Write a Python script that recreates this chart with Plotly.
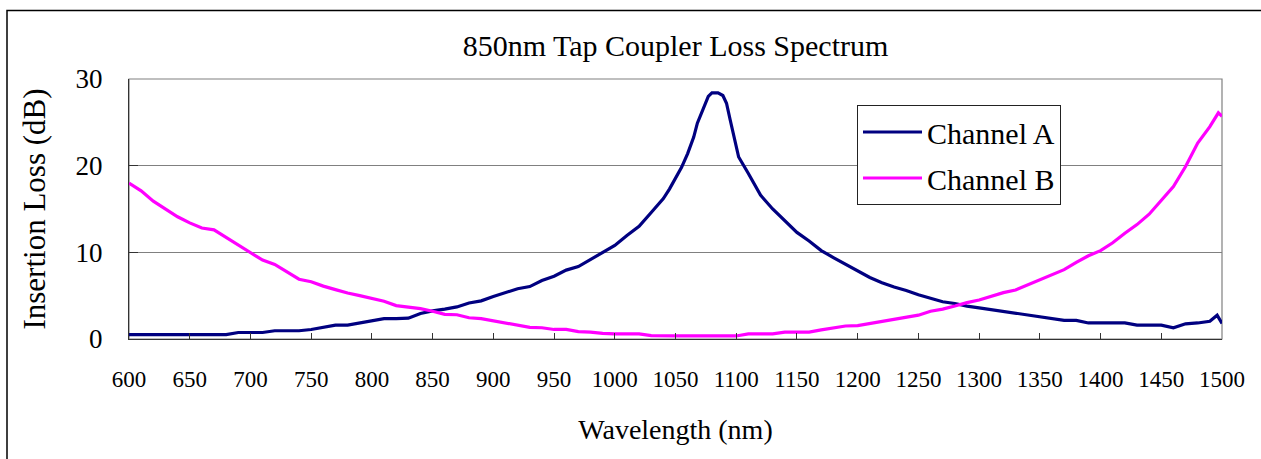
import plotly.graph_objects as go

# ---------------- data ----------------
wavelength_a = [600, 610, 620, 630, 640, 650, 660, 670, 680, 690, 700, 710, 720, 730, 740,
                750, 760, 770, 780, 790, 800, 810, 820, 830, 840, 850, 860, 870, 880, 890,
                900, 910, 920, 930, 940, 950, 960, 970, 980, 990, 1000, 1010, 1020, 1030,
                1040, 1045, 1050, 1055, 1060, 1065, 1068, 1072, 1077, 1080, 1085, 1089,
                1092, 1095, 1098, 1102, 1110, 1120, 1130, 1140, 1150, 1160, 1170, 1180,
                1190, 1200, 1210, 1220, 1230, 1240, 1250, 1260, 1270, 1280, 1290, 1300,
                1310, 1320, 1330, 1340, 1350, 1360, 1370, 1380, 1390, 1400, 1410, 1420,
                1430, 1440, 1450, 1460, 1470, 1480, 1490, 1496, 1500]
channel_a = [0.5, 0.5, 0.5, 0.5, 0.5, 0.5, 0.5, 0.5, 0.5, 0.75, 0.75, 0.75, 0.95, 0.95, 0.95,
             1.1, 1.35, 1.6, 1.6, 1.85, 2.05, 2.35, 2.35, 2.4, 2.95, 3.25, 3.45, 3.7, 4.15, 4.4,
             4.9, 5.35, 5.8, 6.05, 6.75, 7.25, 7.95, 8.35, 9.2, 10.05, 10.8, 11.95, 13.0, 14.6,
             16.2, 17.3, 18.5, 19.8, 21.4, 23.3, 24.9, 26.2, 28.0, 28.4, 28.4, 28.1,
             27.2, 25.3, 23.4, 21.0, 19.1, 16.6, 15.0, 13.7, 12.3, 11.3, 10.2, 9.4,
             8.6, 7.9, 7.1, 6.5, 6.0, 5.6, 5.1, 4.7, 4.3, 4.1, 3.8, 3.6,
             3.4, 3.15, 2.95, 2.75, 2.55, 2.35, 2.15, 2.15, 1.85, 1.85, 1.85, 1.85,
             1.6, 1.6, 1.6, 1.3, 1.75, 1.85, 2.05, 2.75, 1.8]

wavelength_b = [600, 610, 620, 630, 640, 650, 660, 670, 680, 690, 700, 710, 720, 730, 740,
                750, 760, 770, 780, 790, 800, 810, 820, 830, 840, 850, 860, 870, 880, 890,
                900, 910, 920, 930, 940, 950, 960, 970, 980, 990, 1000, 1010, 1020, 1030,
                1040, 1050, 1060, 1070, 1080, 1090, 1100, 1110, 1120, 1130, 1140, 1150,
                1160, 1170, 1180, 1190, 1200, 1210, 1220, 1230, 1240, 1250, 1260, 1270,
                1280, 1290, 1300, 1310, 1320, 1330, 1340, 1350, 1360, 1370, 1380, 1390,
                1400, 1410, 1420, 1430, 1440, 1450, 1460, 1470, 1480, 1490, 1497, 1500]
channel_b = [18.0, 17.1, 15.9, 15.0, 14.1, 13.4, 12.8, 12.6, 11.7, 10.9, 10.0, 9.1, 8.6, 7.8, 6.9,
             6.6, 6.1, 5.7, 5.3, 5.0, 4.65, 4.35, 3.85, 3.7, 3.5, 3.2, 2.85, 2.8, 2.45, 2.35,
             2.1, 1.85, 1.6, 1.35, 1.3, 1.1, 1.1, 0.85, 0.8, 0.65, 0.6, 0.6, 0.6, 0.4,
             0.35, 0.35, 0.35, 0.35, 0.35, 0.35, 0.35, 0.6, 0.6, 0.6, 0.8, 0.8,
             0.8, 1.05, 1.3, 1.5, 1.55, 1.8, 2.0, 2.3, 2.5, 2.75, 3.2, 3.45,
             3.8, 4.2, 4.5, 4.95, 5.35, 5.65, 6.25, 6.85, 7.5, 8.0, 8.85, 9.6,
             10.2, 11.1, 12.2, 13.2, 14.4, 16.0, 17.6, 19.9, 22.6, 24.5, 26.1, 25.7]

x_ticks = list(range(600, 1501, 50))
y_ticks = [0, 10, 20, 30]

title_text = "850nm Tap Coupler Loss Spectrum"
x_title = "Wavelength (nm)"
y_title = "Insertion Loss (dB)"

# ---------------- layout geometry ----------------
W, H = 1261, 459
L, R, T, B = 129, 39, 79, 120
pw, ph = W - L - R, H - T - B
FONT = "Liberation Serif, Times New Roman, serif"


def px_to_paper_x(px):
    return (px - L) / pw


def px_to_paper_y(py):
    return (H - B - py) / ph


fig = go.Figure()
fig.add_trace(go.Scatter(x=wavelength_a, y=channel_a, mode="lines", name="Channel A",
                         legendgroup="a",
                         line=dict(color="#000080", width=3.2)))
fig.add_trace(go.Scatter(x=wavelength_b, y=channel_b, mode="lines", name="Channel B",
                         legendgroup="b",
                         line=dict(color="#FF00FF", width=3.2)))

fig.update_layout(
    width=W, height=H,
    margin=dict(l=L, r=R, t=T, b=B, autoexpand=False),
    paper_bgcolor="white", plot_bgcolor="white",
    font=dict(family=FONT, color="black"),
    title=dict(text=title_text, font=dict(size=30, family=FONT, color="black"),
               x=0.5, xref="paper", xanchor="center",
               y=1 - 45 / H, yref="container", yanchor="middle"),
    legend=dict(x=px_to_paper_x(857), y=px_to_paper_y(105), xanchor="left", yanchor="top",
                bgcolor="white", bordercolor="#222222", borderwidth=1,
                font=dict(size=30, family=FONT, color="black"),
                traceorder="grouped", tracegroupgap=4, itemwidth=59),
    showlegend=True,
)

fig.update_xaxes(range=[600, 1500], tickvals=x_ticks, ticktext=[str(v) for v in x_ticks],
                 showgrid=False, zeroline=False, showline=True, linecolor="#333333", linewidth=1,
                 ticks="inside", ticklen=6, tickcolor="#333333",
                 tickfont=dict(size=23, family=FONT, color="black"),
                 ticklabelstandoff=19,
                 title=dict(text=x_title, font=dict(size=28, family=FONT, color="black"),
                            standoff=28),
                 automargin=False)
fig.update_yaxes(range=[0, 30], tickvals=y_ticks, ticktext=[str(v) for v in y_ticks],
                 showgrid=True, gridcolor="#808080", gridwidth=1, zeroline=False,
                 showline=True, linecolor="#333333", linewidth=1,
                 ticks="inside", ticklen=9, tickcolor="#333333",
                 tickfont=dict(size=27, family=FONT, color="black"),
                 ticklabelstandoff=20,
                 title=dict(text=y_title, font=dict(size=31, family=FONT, color="black"),
                            standoff=20),
                 automargin=False)

# plot-area frame (grey) and outer chart border (black)
fig.add_shape(type="rect", xref="paper", yref="paper", x0=0, x1=1, y0=0, y1=1,
              line=dict(color="#808080", width=1.2), fillcolor="rgba(0,0,0,0)", layer="below")
fig.add_shape(type="rect", xref="paper", yref="paper",
              x0=px_to_paper_x(7), x1=px_to_paper_x(W + 20),
              y0=px_to_paper_y(H + 20), y1=px_to_paper_y(10.5),
              line=dict(color="black", width=1.5), fillcolor="rgba(0,0,0,0)", layer="below")

fig.write_html("out.html", config={"displayModeBar": False},
               post_script="document.body.style.margin='0px';")
